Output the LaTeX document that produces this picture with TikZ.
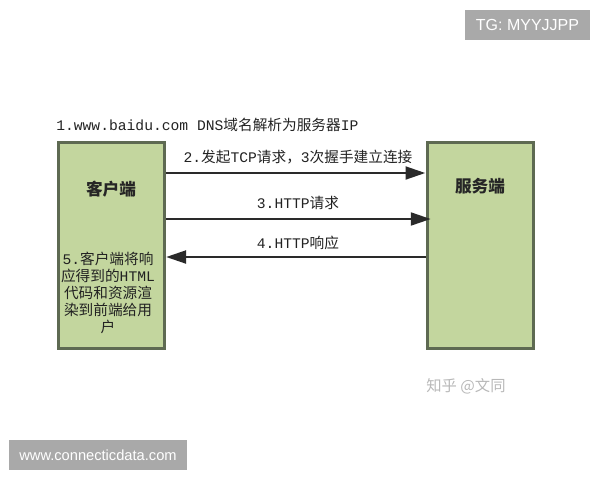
\documentclass[tikz,border=0pt]{standalone}
\usepackage{fontspec}
\setmainfont{Liberation Mono}
\newfontfamily\cjk{Noto Sans CJK SC}
\newfontfamily\sansf{Liberation Sans}
\usetikzlibrary{arrows.meta}
\newcommand{\zh}[1]{{\cjk #1}}
\definecolor{boxfill}{HTML}{C3D69E}
\definecolor{boxline}{HTML}{5E6A52}
\definecolor{arrowc}{HTML}{2A2A2A}
\definecolor{tagg}{HTML}{A9A9A9}
\definecolor{txt}{HTML}{222222}
\tikzset{
  box/.style={draw=boxline, line width=2.25pt, fill=boxfill, minimum width=79.5pt, minimum height=154.5pt, inner sep=0pt},
  arr/.style={draw=arrowc, line width=2.2pt, -{Triangle[length=15pt,width=9.5pt]}},
  lbl/.style={font=\fontsize{11}{12.5}\selectfont, text=txt, inner sep=0pt},
  tag/.style={fill=tagg, text=white, inner sep=0pt, font=\sansf},
}
\begin{document}
\begin{tikzpicture}[x=0.75pt,y=-0.75pt]
\useasboundingbox (0,0) rectangle (600,480);
% boxes
\node[box] (client) at (111.5,245.5) {};
\node[box] (server) at (480,245.5) {};
% box titles
\node[lbl, font=\fontsize{12.5}{14}\selectfont\cjk\bfseries, text=black!85] (ctitle) at (111,189) {客户端};
\node[lbl, font=\fontsize{12.5}{14}\selectfont\cjk\bfseries, text=black!85] (stitle) at (480,186) {服务端};
% step 1
\node[lbl, anchor=west] (s1) at (56,125) {1.www.baidu.com DNS\zh{域名解析为服务器}IP};
% arrows
\coordinate (a1) at (0,173);
\coordinate (a2) at (0,219);
\coordinate (a3) at (0,257);
\draw[arr] (client.east |- a1) -- (server.west |- a1);
\draw[arr] (client.east |- a2) -- ([xshift=4pt]server.west |- a2);
\draw[arr] (server.west |- a3) -- (client.east |- a3);
\node[lbl] (s2) at (298,157) {2.\zh{发起}TCP\zh{请求，}3\zh{次握手建立连接}};
\node[lbl] (s3) at (298,203) {3.HTTP\zh{请求}};
\node[lbl] (s4) at (298,243) {4.HTTP\zh{响应}};
% step 5
\node[lbl, align=center, font=\fontsize{11}{12.75}\selectfont] (s5) at (108,293)
  {5.\zh{客户端将响}\\\zh{应得到的}HTML\\\zh{代码和资源渲}\\\zh{染到前端给用}\\\zh{户}};
% watermark
\node[lbl, text=black!28, font=\fontsize{11.5}{13}\selectfont\cjk] (wm) at (466,386) {知乎 @文同};
% tags
\node[tag, minimum width=93.75pt, minimum height=22.5pt, font=\sansf\fontsize{12}{14}\selectfont] (tg) at (527.5,25) {TG: MYYJJPP};
\node[tag, minimum width=133.5pt, minimum height=22.5pt, font=\sansf\fontsize{11}{13}\selectfont] (www) at (98,455) {www.connecticdata.com};
\end{tikzpicture}
\end{document}
